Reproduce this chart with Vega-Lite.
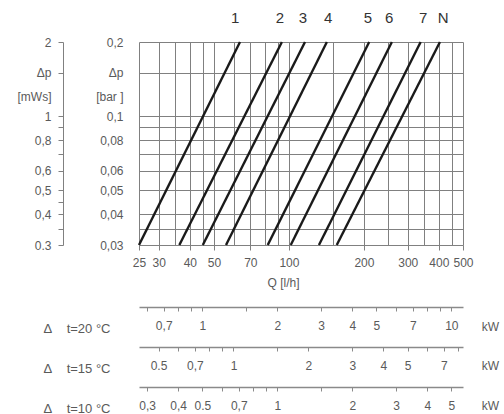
{
  "$schema": "https://vega.github.io/schema/vega-lite/v6.json",
  "width": 324,
  "height": 203,
  "autosize": "none",
  "padding": {"left": 139, "top": 42, "right": 41, "bottom": 169},
  "background": "white",
  "config": {
    "view": {"stroke": null},
    "font": "Liberation Sans",
    "axis": {
      "labelFont": "Liberation Sans",
      "titleFont": "Liberation Sans",
      "labelFontSize": 12,
      "titleFontSize": 12,
      "labelColor": "#5a5a5a",
      "titleColor": "#5a5a5a",
      "titleFontWeight": "normal",
      "labelFlush": false,
      "labelOverlap": false
    }
  },
  "datasets": {
    "lines": [
      {"line": "1", "Q": 25, "dp": 0.03}, {"line": "1", "Q": 63.6, "dp": 0.2},
      {"line": "2", "Q": 36.3, "dp": 0.03}, {"line": "2", "Q": 93.7, "dp": 0.2},
      {"line": "3", "Q": 45.1, "dp": 0.03}, {"line": "3", "Q": 116, "dp": 0.2},
      {"line": "4", "Q": 55.9, "dp": 0.03}, {"line": "4", "Q": 142, "dp": 0.2},
      {"line": "5", "Q": 82.2, "dp": 0.03}, {"line": "5", "Q": 210, "dp": 0.2},
      {"line": "6", "Q": 101.7, "dp": 0.03}, {"line": "6", "Q": 259, "dp": 0.2},
      {"line": "7", "Q": 132, "dp": 0.03}, {"line": "7", "Q": 338, "dp": 0.2},
      {"line": "N", "Q": 155.6, "dp": 0.03}, {"line": "N", "Q": 404, "dp": 0.2}
    ],
    "labels": [
      {"label": "1", "Q": 60.8, "dp": 0.2},
      {"label": "2", "Q": 92.1, "dp": 0.2},
      {"label": "3", "Q": 113.9, "dp": 0.2},
      {"label": "4", "Q": 143.6, "dp": 0.2},
      {"label": "5", "Q": 207.8, "dp": 0.2},
      {"label": "6", "Q": 252.5, "dp": 0.2},
      {"label": "7", "Q": 345.6, "dp": 0.2},
      {"label": "N", "Q": 415.8, "dp": 0.2}
    ],
    "kw20": [{"kW": 0.6}, {"kW": 0.7}, {"kW": 0.8}, {"kW": 0.9}, {"kW": 1}, {"kW": 1.5}, {"kW": 2}, {"kW": 3}, {"kW": 4}, {"kW": 5}, {"kW": 6}, {"kW": 7}, {"kW": 8}, {"kW": 9}, {"kW": 10}],
    "kw15": [{"kW": 0.5}, {"kW": 0.6}, {"kW": 0.7}, {"kW": 0.8}, {"kW": 0.9}, {"kW": 1}, {"kW": 1.5}, {"kW": 2}, {"kW": 3}, {"kW": 4}, {"kW": 5}, {"kW": 6}, {"kW": 7}, {"kW": 8}],
    "kw10": [{"kW": 0.3}, {"kW": 0.4}, {"kW": 0.5}, {"kW": 0.6}, {"kW": 0.7}, {"kW": 0.8}, {"kW": 0.9}, {"kW": 1}, {"kW": 1.5}, {"kW": 2}, {"kW": 3}, {"kW": 4}, {"kW": 5}]
  },
  "layer": [
    {
      "data": {"name": "lines"},
      "mark": {"type": "line", "color": "#1a1a1a", "strokeWidth": 2.4},
      "encoding": {
        "x": {
          "field": "Q", "type": "quantitative",
          "scale": {"type": "log", "domain": [25, 500], "nice": false},
          "axis": {
            "title": "Q [l/h]",
            "values": [25, 30, 35, 40, 45, 50, 60, 70, 80, 90, 100, 150, 200, 250, 300, 350, 400, 450, 500],
            "grid": true, "gridColor": "#808080", "gridWidth": 1,
            "domain": false,
            "tickSize": 5, "tickColor": "#808080",
            "tickOpacity": {"condition": {"test": "indexof([25,30,40,50,70,100,200,300,400,500], datum.value) >= 0", "value": 1}, "value": 0},
            "labelExpr": "indexof([25,30,40,50,70,100,200,300,400,500], datum.value) >= 0 ? '' + datum.value : ''",
            "labelPadding": 7,
            "titleX": 144, "titleY": 37, "titleAlign": "center", "titleBaseline": "middle"
          }
        },
        "y": {
          "field": "dp", "type": "quantitative",
          "scale": {"type": "log", "domain": [0.03, 0.2], "nice": false},
          "axis": {
            "title": null,
            "values": [0.2, 0.15, 0.12, 0.1, 0.09, 0.08, 0.07, 0.06, 0.05, 0.04, 0.035, 0.03],
            "grid": true, "gridColor": "#808080", "gridWidth": 1,
            "gridOpacity": {"condition": {"test": "datum.value == 0.12", "value": 0}, "value": 1},
            "ticks": false, "tickSize": 0, "domain": false,
            "labelPadding": 16,
            "labelExpr": "datum.value == 0.15 ? 'Δp' : datum.value == 0.12 ? '[bar ]' : indexof([0.2,0.1,0.08,0.06,0.05,0.04,0.03], datum.value) >= 0 ? replace('' + datum.value, '.', ',') : ''"
          }
        },
        "detail": {"field": "line"}
      }
    },
    {
      "data": {"name": "labels"},
      "mark": {"type": "text", "fontSize": 15, "color": "#333333", "dy": -24, "baseline": "middle", "font": "Liberation Sans"},
      "encoding": {
        "x": {
          "field": "Q", "type": "quantitative",
          "scale": {"type": "log", "domain": [25, 500], "nice": false},
          "axis": {
            "orient": "bottom", "offset": 62,
            "domain": false, "ticks": false, "labels": false, "grid": false,
            "title": ["kW", "kW", "kW"],
            "titleX": 351, "titleY": 23, "titleAlign": "center", "titleBaseline": "alphabetic", "titleLineHeight": 39.5
          }
        },
        "y": {
          "field": "dp", "type": "quantitative",
          "scale": {"type": "log", "domain": [0.03, 0.2], "nice": false},
          "axis": {
            "orient": "left", "offset": 76, "title": null,
            "values": [0.2, 0.15, 0.12, 0.1, 0.09, 0.08, 0.07, 0.06, 0.05, 0.045, 0.04, 0.035, 0.03],
            "grid": false, "domain": true, "domainColor": "#808080",
            "tickColor": "#808080", "tickSize": 5,
            "tickOpacity": {"condition": {"test": "datum.value == 0.12", "value": 0}, "value": 1},
            "labelPadding": 7,
            "labelExpr": "datum.value == 0.15 ? 'Δp' : datum.value == 0.12 ? '[mWs]' : datum.value == 0.03 ? '0.3' : indexof([0.2,0.1,0.08,0.06,0.05,0.04], datum.value) >= 0 ? replace(format(datum.value * 10, '.2~f'), '.', ',') : ''"
          }
        },
        "text": {"field": "label"}
      }
    },
    {
      "data": {"name": "kw20"},
      "mark": {"type": "point", "opacity": 0},
      "encoding": {
        "x": {
          "field": "kW", "type": "quantitative",
          "scale": {"type": "log", "domain": [0.557, 11.14], "nice": false},
          "axis": {
            "orient": "bottom", "offset": 62,
            "values": [0.6, 0.7, 0.8, 0.9, 1, 1.5, 2, 3, 4, 5, 6, 7, 8, 9, 10],
            "grid": false, "domain": true, "domainColor": "#8a8a8a", "domainWidth": 1.5,
            "tickColor": "#8a8a8a", "tickSize": 4, "labelPadding": 9,
            "labelExpr": "indexof([0.7,1,2,3,4,5,7,10], datum.value) >= 0 ? replace('' + datum.value, '.', ',') : ''",
            "title": "Δ\u00a0\u00a0\u00a0 t=20 °C",
            "titleFontSize": 13,
            "titleX": -96, "titleY": 21, "titleAlign": "left", "titleBaseline": "middle"
          }
        }
      }
    },
    {
      "data": {"name": "kw15"},
      "mark": {"type": "point", "opacity": 0},
      "encoding": {
        "x": {
          "field": "kW", "type": "quantitative",
          "scale": {"type": "log", "domain": [0.4175, 8.35], "nice": false},
          "axis": {
            "orient": "bottom", "offset": 102,
            "values": [0.5, 0.6, 0.7, 0.8, 0.9, 1, 1.5, 2, 3, 4, 5, 6, 7, 8],
            "grid": false, "domain": true, "domainColor": "#8a8a8a", "domainWidth": 1.5,
            "tickColor": "#8a8a8a", "tickSize": 4, "labelPadding": 9,
            "labelExpr": "datum.value == 0.5 ? '0.5' : indexof([0.7,1,2,3,4,5,7], datum.value) >= 0 ? replace('' + datum.value, '.', ',') : ''",
            "title": "Δ\u00a0\u00a0\u00a0 t=15 °C",
            "titleFontSize": 13,
            "titleX": -96, "titleY": 21, "titleAlign": "left", "titleBaseline": "middle"
          }
        }
      }
    },
    {
      "data": {"name": "kw10"},
      "mark": {"type": "point", "opacity": 0},
      "encoding": {
        "x": {
          "field": "kW", "type": "quantitative",
          "scale": {"type": "log", "domain": [0.2784, 5.568], "nice": false},
          "axis": {
            "orient": "bottom", "offset": 142,
            "values": [0.3, 0.4, 0.5, 0.6, 0.7, 0.8, 0.9, 1, 1.5, 2, 3, 4, 5],
            "grid": false, "domain": true, "domainColor": "#8a8a8a", "domainWidth": 1.5,
            "tickColor": "#8a8a8a", "tickSize": 4, "labelPadding": 9,
            "labelExpr": "datum.value == 0.5 ? '0.5' : indexof([0.3,0.4,0.7,1,2,3,4,5], datum.value) >= 0 ? replace('' + datum.value, '.', ',') : ''",
            "title": "Δ\u00a0\u00a0\u00a0 t=10 °C",
            "titleFontSize": 13,
            "titleX": -96, "titleY": 21, "titleAlign": "left", "titleBaseline": "middle"
          }
        }
      }
    }
  ],
  "resolve": {"scale": {"x": "independent", "y": "independent"}}
}
